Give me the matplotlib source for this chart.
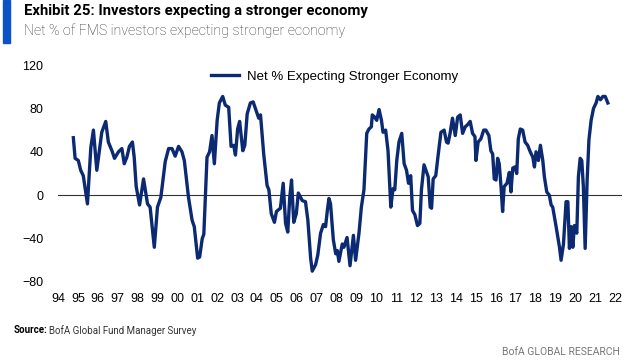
import matplotlib
matplotlib.use("Agg")
import matplotlib.pyplot as plt
from matplotlib.patches import Rectangle

# decimal year / net % expecting stronger economy
years = [1994.77, 1994.86, 1995.02, 1995.14, 1995.27, 1995.48, 1995.65, 1995.78, 1995.95, 1996.20,
         1996.40, 1996.53, 1996.71, 1996.84, 1997.04, 1997.21, 1997.33, 1997.46, 1997.59, 1997.74,
         1997.83, 1997.93, 1998.10, 1998.30, 1998.50, 1998.63, 1998.84, 1999.00, 1999.17, 1999.39,
         1999.56, 1999.73, 1999.89, 2000.06, 2000.23, 2000.35, 2000.56, 2000.74, 2000.85, 2001.02,
         2001.12, 2001.25, 2001.33, 2001.49, 2001.62, 2001.74, 2001.86, 2002.00, 2002.11, 2002.28,
         2002.41, 2002.58, 2002.70, 2002.83, 2002.92, 2003.03, 2003.13, 2003.29, 2003.39, 2003.51,
         2003.67, 2003.81, 2003.98, 2004.09, 2004.18, 2004.34, 2004.51, 2004.60, 2004.72, 2004.88,
         2004.98, 2005.18, 2005.32, 2005.44, 2005.55, 2005.65, 2005.74, 2005.85, 2005.98, 2006.08,
         2006.28, 2006.44, 2006.56, 2006.70, 2006.78, 2006.95, 2007.06, 2007.20, 2007.34, 2007.45,
         2007.54, 2007.62, 2007.70, 2007.84, 2007.96, 2008.04, 2008.12, 2008.29, 2008.37, 2008.53,
         2008.68, 2008.85, 2008.96, 2009.13, 2009.25, 2009.38, 2009.52, 2009.63, 2009.75, 2009.80,
         2009.92, 2010.02, 2010.14, 2010.26, 2010.34, 2010.47, 2010.59, 2010.73, 2010.84, 2010.93,
         2011.03, 2011.14, 2011.28, 2011.40, 2011.52, 2011.62, 2011.73, 2011.82, 2011.94, 2012.07,
         2012.19, 2012.27, 2012.40, 2012.53, 2012.61, 2012.71, 2012.78, 2012.86, 2012.99, 2013.11,
         2013.25, 2013.41, 2013.53, 2013.61, 2013.71, 2013.83, 2013.97, 2014.09, 2014.22, 2014.34,
         2014.47, 2014.59, 2014.72, 2014.84, 2014.96, 2015.01, 2015.12, 2015.26, 2015.40, 2015.51,
         2015.66, 2015.76, 2015.85, 2015.93, 2016.02, 2016.10, 2016.18, 2016.27, 2016.35, 2016.43,
         2016.57, 2016.69, 2016.77, 2016.86, 2016.97, 2017.06, 2017.14, 2017.24, 2017.36, 2017.48,
         2017.61, 2017.74, 2017.87, 2017.95, 2018.03, 2018.15, 2018.25, 2018.37, 2018.45, 2018.57,
         2018.70, 2018.79, 2018.87, 2019.04, 2019.21, 2019.29, 2019.41, 2019.54, 2019.63, 2019.71,
         2019.80, 2019.88, 2019.96, 2020.08, 2020.16, 2020.25, 2020.33, 2020.41, 2020.50, 2020.60,
         2020.69, 2020.80, 2020.92, 2021.05, 2021.14, 2021.27, 2021.39, 2021.51, 2021.64]

net_pct = [53, 34, 32, 23, 18, -8, 44, 60, 23, 58,
           68, 49, 41, 34, 40, 43, 29, 35, 45, 49,
           35, 8, -9, 15, -8, -11, -48, -11, -2, 31,
           43, 43, 36, 45, 40, 32, -2, -23, -29, -58,
           -57, -40, -36, 35, 40, 55, 29, 69, 85, 91,
           83, 81, 45, 46, 37, 61, 68, 41, 46, 75,
           85, 86, 77, 71, 74, 38, 9, 5, -17, -25,
           -15, -12, 11, -26, -34, -2, 14, -25, -17, 2,
           -5, -6, -23, -58, -70, -64, -55, -35, -27, -29,
           -14, -3, -8, -41, -54, -51, -61, -45, -48, -39,
           -65, -37, -60, -35, -11, 5, 57, 61, 63, 74,
           72, 69, 79, 69, 58, 60, 41, -11, 6, 5,
           32, 49, 57, 29, 23, 11, 18, -14, -18, -28,
           -26, 5, 28, 21, 17, -11, -12, 15, 18, 37,
           58, 60, 49, 48, 57, 71, 55, 72, 74, 57,
           63, 65, 68, 57, 54, 32, 49, 52, 60, 60,
           55, 41, 38, 15, 14, 34, 29, 8, -15, 8,
           11, 21, 3, 25, 26, 20, 52, 61, 60, 49,
           46, 40, 35, 26, 40, 32, 46, 32, 17, 3,
           0, -9, -11, -29, -48, -60, -45, -6, -6, -49,
           -29, -48, -28, -35, 17, 34, 32, 8, -49, 14,
           51, 69, 80, 85, 91, 88, 91, 91, 85]

year_ticks = list(range(1994, 2023))
year_labels = ["%02d" % (y % 100) for y in year_ticks]
y_ticks = [-80, -40, 0, 40, 80, 120]

navy = "#0b2a72"
plt.rcParams["font.family"] = ["Liberation Sans", "DejaVu Sans"]

fig = plt.figure(figsize=(6.34, 3.64), dpi=100)
ax = fig.add_axes([0.0915, 0.2253, 0.8895, 0.5961])

ax.plot(years, net_pct, color=navy, lw=2.4, solid_joinstyle="round",
        label="Net % Expecting Stronger Economy")
ax.axhline(0, color="#333333", lw=0.8, zorder=1)

ax.set_xlim(1994, 2022.35)
ax.set_ylim(-80, 120)
ax.set_xticks(year_ticks)
ax.set_xticklabels(year_labels)
ax.set_yticks(y_ticks)
ax.tick_params(length=0, labelsize=9, colors="black")
ax.tick_params(axis="y", pad=10.5)
ax.tick_params(axis="x", pad=8)
for s in ax.spines.values():
    s.set_visible(False)

ax.legend(loc="upper center", bbox_to_anchor=(0.49, 1.03), frameon=False,
          fontsize=9.5, handlelength=2.1, handletextpad=0.6)

# header
fig.patches.append(Rectangle((0.004, 0.882), 0.012, 0.118, transform=fig.transFigure,
                             color="#0a52c8", zorder=5))
fig.text(0.038, 0.970, "Exhibit 25: Investors expecting a stronger economy",
         fontsize=10.7, fontweight="bold", family="Roboto", va="center", ha="left")
fig.text(0.038, 0.916, "Net % of FMS investors expecting stronger economy",
         fontsize=10.3, fontweight="light", family="Roboto", va="center", ha="left",
         color="#333333")

# footer
fig.text(0.022, 0.093, "Source:", fontsize=7, fontweight="bold", family="Roboto",
         va="center", ha="left")
fig.text(0.077, 0.093, "BofA Global Fund Manager Survey", fontsize=7, family="Roboto",
         va="center", ha="left", color="#333333")
fig.text(0.978, 0.033, "BofA GLOBAL RESEARCH", fontsize=7.5, family="Roboto",
         va="center", ha="right", color="#777777")

fig.savefig("out.png", dpi=100)
